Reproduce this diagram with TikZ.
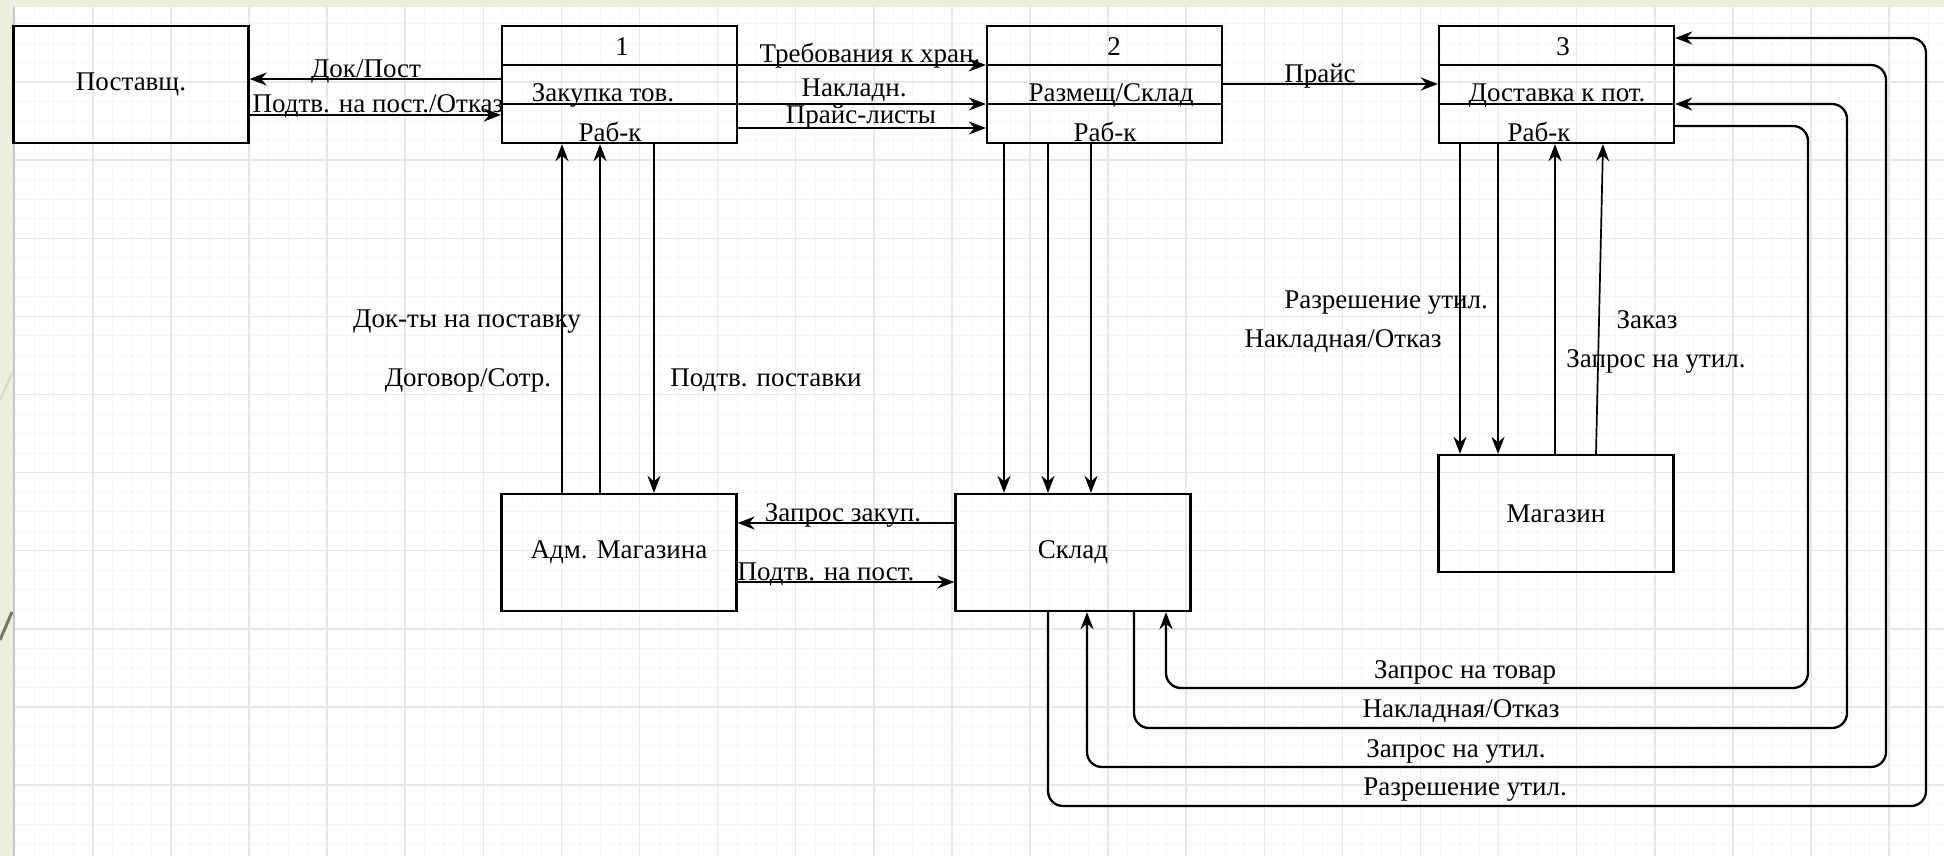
\documentclass[tikz,border=0pt]{standalone}
\usepackage{fontspec}
\setmainfont{Liberation Serif}
\usetikzlibrary{arrows.meta}
\newcommand\dfdfont{\fontsize{27}{32}\selectfont}
\definecolor{slidebg}{HTML}{EBEFDD}
\definecolor{gridmaj}{HTML}{E8E8E8}
\definecolor{gridmin}{HTML}{F6F6F6}
\definecolor{edgegray}{HTML}{C6C6C6}
\definecolor{olive}{HTML}{7A7560}
\definecolor{faintline}{HTML}{D6D8C8}
\begin{document}
\begin{tikzpicture}[x=1pt,y=-1pt,
  box/.style={draw=black, line width=2.3pt, minimum width=235pt, minimum height=117pt, inner sep=0pt, font=\dfdfont},
  lbl/.style={inner sep=0pt, font=\dfdfont, anchor=base},
  conn/.style={draw=black, line width=2.3pt},
  arr/.style={conn, -{Stealth[length=17pt,width=13pt]}},
  loop/.style={arr, rounded corners=15pt},
  div/.style={draw=black, line width=2.3pt}]
\useasboundingbox (0,0) rectangle (1944,856);
% background
\fill[slidebg] (0,0) rectangle (1944,856);
\fill[white] (14,7) rectangle (1944,856);
\begin{scope}
\clip (14,7) rectangle (1944,856);
\foreach \i in {0,...,99} {\draw[gridmin, line width=1pt] ({14.7+19.525*\i},7) -- ({14.7+19.525*\i},856);}
\foreach \j in {1,...,44} {\draw[gridmin, line width=1pt] (14,{4+19.525*\j}) -- (1944,{4+19.525*\j});}
\foreach \i in {0,...,25} {\draw[gridmaj, line width=1.5pt] ({14.7+78.1*\i},7) -- ({14.7+78.1*\i},856);}
\foreach \j in {1,...,11} {\draw[gridmaj, line width=1.5pt] (14,{4+78.1*\j}) -- (1944,{4+78.1*\j});}
\end{scope}
\draw[edgegray, line width=2pt] (14,7) -- (14,856);
\draw[faintline, line width=2pt] (0,400) -- (12,373);
\draw[olive, line width=3pt] (0,640) -- (12,612);

% boxes
\node[box] (sup) at (131,84.5) {Поставщ.};
\node[box] (p1) at (619.5,84.5) {};
\node[box] (p2) at (1104.5,84.5) {};
\node[box] (p3) at (1556.5,84.5) {};
\node[box] (adm) at (619,552.5) {Адм. Магазина};
\node[box] (skl) at (1073,552.5) {Склад};
\node[box] (mag) at (1556,513.5) {Магазин};

% dividers
\foreach \b in {p1,p2,p3} {
  \draw[div] (\b.west |- 0,65) -- (\b.east |- 0,65);
  \draw[div] (\b.west |- 0,104) -- (\b.east |- 0,104);
}
% process texts
\node[lbl] (n1) at (622,56) {1};
\node[lbl] (n1a) at (603,102) {Закупка тов.};
\node[lbl] (n1b) at (610,142) {Раб-к};
\node[lbl] (n2) at (1114,56) {2};
\node[lbl] (n2a) at (1111,102) {Размещ/Склад};
\node[lbl] (n2b) at (1105,142) {Раб-к};
\node[lbl] (n3) at (1563,56) {3};
\node[lbl] (n3a) at (1557,102) {Доставка к пот.};
\node[lbl] (n3b) at (1539,142) {Раб-к};

% top connectors
\draw[arr] (p1.west |- 0,79) -- (sup.east |- 0,79);
\draw[arr] (sup.east |- 0,115) -- (p1.west |- 0,115);
\draw[arr] (p1.east |- 0,65) -- (p2.west |- 0,65);
\draw[arr] (p1.east |- 0,104) -- (p2.west |- 0,104);
\draw[arr] (p1.east |- 0,128) -- (p2.west |- 0,128);
\draw[arr] (p2.east |- 0,84) -- (p3.west |- 0,84);
\node[lbl] (tdok) at (366,78) {Док/Пост};
\node[lbl] (tpodt) at (378,113) {Подтв. на пост./Отказ};
\node[lbl] (treb) at (870,63) {Требования к хран.};
\node[lbl] (tnakl) at (854,97) {Накладн.};
\node[lbl] (tprl) at (861,124) {Прайс-листы};
\node[lbl] (tpr) at (1320,83) {Прайс};

% box1 <-> adm
\draw[arr] (adm.north -| 562,0) -- (p1.south -| 562,0);
\draw[arr] (adm.north -| 600,0) -- (p1.south -| 600,0);
\draw[arr] (p1.south -| 654,0) -- (adm.north -| 654,0);
\node[lbl] (tdoks) at (467,327) {Док-ты на поставку};
\node[lbl] (tdog) at (468,386) {Договор/Сотр.};
\node[lbl] (tpodp) at (766,386) {Подтв. поставки};

% box2 -> sklad
\draw[arr] (p2.south -| 1004,0) -- (skl.north -| 1004,0);
\draw[arr] (p2.south -| 1048,0) -- (skl.north -| 1048,0);
\draw[arr] (p2.south -| 1091,0) -- (skl.north -| 1091,0);

% sklad <-> adm
\draw[arr] (skl.west |- 0,523) -- (adm.east |- 0,523);
\draw[arr] (adm.east |- 0,582) -- (skl.west |- 0,582);
\node[lbl] (tzak) at (843,521) {Запрос закуп.};
\node[lbl] (tpnp) at (826,580) {Подтв. на пост.};

% box3 <-> magazin
\draw[arr] (p3.south -| 1460,0) -- (mag.north -| 1460,0);
\draw[arr] (p3.south -| 1498,0) -- (mag.north -| 1498,0);
\draw[arr] (mag.north -| 1555,0) -- (p3.south -| 1555,0);
\draw[arr, line width=1.7pt] (mag.north -| 1596,0) -- (p3.south -| 1603,0);
\node[lbl] (trazu) at (1386,308) {Разрешение утил.};
\node[lbl] (tnako) at (1343,347) {Накладная/Отказ};
\node[lbl] (tzakaz) at (1647,328) {Заказ};
\node[lbl] (tzu) at (1656,367) {Запрос на утил.};

% loops between box3 and sklad
\draw[loop] (p3.east |- 0,126) -- (1808,126) -- (1808,688) -- (1166,688) -- (skl.south -| 1166,0);
\draw[loop] (skl.south -| 1134,0) -- (1134,728) -- (1847,728) -- (1847,104) -- (p3.east |- 0,104);
\draw[loop] (p3.east |- 0,65) -- (1886,65) -- (1886,767) -- (1087,767) -- (skl.south -| 1087,0);
\draw[loop] (skl.south -| 1048,0) -- (1048,806) -- (1926,806) -- (1926,38) -- (p3.east |- 0,38);
\node[lbl] (bl1) at (1465,678) {Запрос на товар};
\node[lbl] (bl2) at (1461,717) {Накладная/Отказ};
\node[lbl] (bl3) at (1456,757) {Запрос на утил.};
\node[lbl] (bl4) at (1465,795) {Разрешение утил.};
\end{tikzpicture}
\end{document}
